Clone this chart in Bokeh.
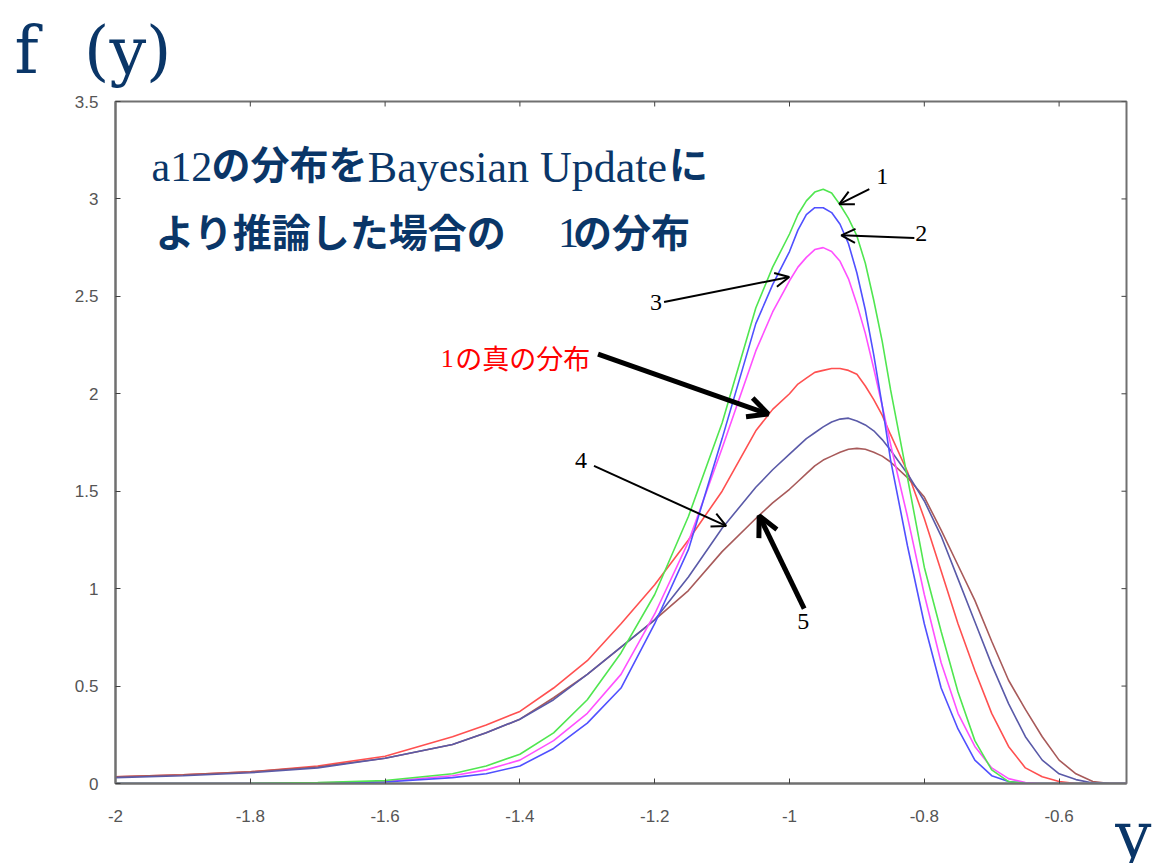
from bokeh.plotting import figure
from bokeh.models import Label, Arrow, OpenHead, FixedTicker, Range1d, Title
from bokeh.embed import file_html
from bokeh.resources import INLINE

# ---------------- data ----------------
y_vals = [-2.0, -1.9, -1.8, -1.7, -1.6, -1.5, -1.45, -1.4, -1.35, -1.3, -1.25, -1.2,
          -1.15, -1.1, -1.05,
          -1.025, -1.0, -0.9875, -0.975, -0.9625, -0.95, -0.9375, -0.925, -0.9125,
          -0.9, -0.8875, -0.875, -0.8625, -0.85,
          -0.825, -0.8, -0.775, -0.75, -0.725, -0.7, -0.675, -0.65, -0.625, -0.6,
          -0.575, -0.55, -0.525, -0.5]

f_green_1 = [0.0, 0.0, 0.001, 0.005, 0.015, 0.05, 0.09, 0.15, 0.26, 0.43, 0.67, 0.97,
             1.37, 1.85, 2.44,
             2.65, 2.82, 2.92, 2.99, 3.035, 3.05, 3.03, 2.97, 2.90, 2.81, 2.67, 2.48, 2.27, 2.02,
             1.57, 1.11, 0.78, 0.47, 0.22, 0.07, 0.01, 0.0, 0.0, 0.0, 0.0, 0.0, 0.0, 0.0]
f_blue_2 = [0.0, 0.0, 0.0, 0.002, 0.008, 0.03, 0.05, 0.09, 0.18, 0.31, 0.49, 0.82,
            1.20, 1.77, 2.36,
            2.56, 2.73, 2.84, 2.92, 2.955, 2.955, 2.93, 2.87, 2.77, 2.62, 2.43, 2.20, 1.94, 1.66,
            1.22, 0.82, 0.49, 0.28, 0.12, 0.04, 0.01, 0.0, 0.0, 0.0, 0.0, 0.0, 0.0, 0.0]
f_magenta_3 = [0.0, 0.0, 0.0, 0.003, 0.01, 0.04, 0.07, 0.12, 0.22, 0.36, 0.56, 0.87,
               1.24, 1.72, 2.22,
               2.42, 2.58, 2.65, 2.70, 2.74, 2.75, 2.73, 2.68, 2.59, 2.46, 2.31, 2.13, 1.94, 1.74,
               1.37, 0.97, 0.62, 0.36, 0.19, 0.08, 0.025, 0.005, 0.0, 0.0, 0.0, 0.0, 0.0, 0.0]
f_true = [0.035, 0.045, 0.06, 0.09, 0.14, 0.24, 0.30, 0.37, 0.49, 0.63, 0.82, 1.02,
          1.25, 1.50, 1.81,
          1.92, 2.00, 2.05, 2.08, 2.11, 2.12, 2.13, 2.13, 2.12, 2.10, 2.04, 1.97, 1.89, 1.79,
          1.60, 1.36, 1.09, 0.82, 0.58, 0.36, 0.19, 0.08, 0.035, 0.01, 0.0, 0.0, 0.0, 0.0]
f_navy_4 = [0.03, 0.04, 0.055, 0.08, 0.13, 0.20, 0.26, 0.33, 0.43, 0.56, 0.70, 0.84,
            1.06, 1.31, 1.52,
            1.61, 1.69, 1.73, 1.77, 1.80, 1.83, 1.855, 1.87, 1.875, 1.86, 1.84, 1.81, 1.765, 1.71,
            1.59, 1.45, 1.27, 1.05, 0.83, 0.61, 0.41, 0.24, 0.12, 0.05, 0.02, 0.003, 0.0, 0.0]
f_brown_5 = [0.035, 0.045, 0.06, 0.085, 0.13, 0.20, 0.26, 0.33, 0.44, 0.56, 0.70, 0.84,
             0.99, 1.19, 1.36,
             1.44, 1.51, 1.55, 1.59, 1.63, 1.66, 1.68, 1.70, 1.715, 1.72, 1.715, 1.70, 1.68, 1.65,
             1.57, 1.47, 1.30, 1.12, 0.94, 0.73, 0.53, 0.38, 0.24, 0.12, 0.05, 0.01, 0.0, 0.0]

x_ticks = [-2.0, -1.8, -1.6, -1.4, -1.2, -1.0, -0.8, -0.6]
x_tick_labels = ["-2", "-1.8", "-1.6", "-1.4", "-1.2", "-1", "-0.8", "-0.6"]
y_ticks = [0.0, 0.5, 1.0, 1.5, 2.0, 2.5, 3.0, 3.5]
y_tick_labels = ["0", "0.5", "1", "1.5", "2", "2.5", "3", "3.5"]

X_MIN, X_MAX, Y_MIN, Y_MAX = -2.0, -0.5, 0.0, 3.5

# ---------------- figure ----------------
NAVY = "#0a3668"
p = figure(width=1155, height=863, x_range=Range1d(X_MIN, X_MAX), y_range=Range1d(Y_MIN, Y_MAX),
           output_backend="svg", toolbar_location=None,
           min_border_left=115, min_border_right=29, min_border_top=100, min_border_bottom=80)
p.background_fill_color = "white"
p.border_fill_color = "white"
p.outline_line_color = "#707070"
p.outline_line_width = 2
p.xgrid.grid_line_color = None
p.ygrid.grid_line_color = None

# "f (y)" caption as the plot title (top left)
p.title.text = "f\u2002\u2009(y)"
p.title.text_font = "DejaVu Serif"
p.title.text_font_size = "65px"
p.title.text_font_style = "normal"
p.title.text_color = NAVY
p.title.align = "left"
p.title.vertical_align = "top"
p.title.offset = -101
p.title.standoff = 24

# "y" caption bottom right
p.add_layout(Title(text="y", align="right", offset=-25, standoff=-58,
                   text_font="DejaVu Serif", text_font_size="64px",
                   text_font_style="normal", text_color=NAVY), "below")

AX = "#707070"

def style_axis(ax, standoff):
    ax.axis_line_color = AX
    ax.axis_line_width = 2
    ax.major_tick_in = 5
    ax.major_tick_out = 0
    ax.major_tick_line_color = "#404040"
    ax.major_tick_line_width = 1
    ax.minor_tick_line_color = None
    ax.major_label_text_font = "Liberation Sans"
    ax.major_label_text_color = "#555555"
    ax.major_label_standoff = standoff
    ax.major_label_text_font_size = "17px"

xax = p.xaxis[0]
xax.ticker = FixedTicker(ticks=x_ticks)
xax.major_label_overrides = dict(zip(x_ticks, x_tick_labels))
style_axis(xax, 26)

yax = p.yaxis[0]
yax.ticker = FixedTicker(ticks=y_ticks)
yax.major_label_overrides = dict(zip(y_ticks, y_tick_labels))
style_axis(yax, 17)

# mirrored inward ticks on the top and right borders (gnuplot style)
tick_dy = 5 / 195.1
tick_dx = 5 / 673.3
p.segment(x0=x_ticks, y0=[Y_MAX] * len(x_ticks), x1=x_ticks, y1=[Y_MAX - tick_dy] * len(x_ticks),
          line_color="#404040", line_width=1)
p.segment(x0=[X_MAX] * len(y_ticks), y0=y_ticks, x1=[X_MAX - tick_dx] * len(y_ticks), y1=y_ticks,
          line_color="#404040", line_width=1)

# ---------------- curves ----------------
series = [
    (f_true, "#ff5050"),
    (f_brown_5, "#a85a5a"),
    (f_navy_4, "#5a5aa8"),
    (f_magenta_3, "#ff50ff"),
    (f_blue_2, "#5050ff"),
    (f_green_1, "#50e650"),
]
for vals, col in series:
    p.line(y_vals, vals, line_color=col, line_width=1.6)

# ---------------- annotations ----------------
SERIF = "Liberation Serif"
CJK = "Noto Sans CJK JP"

def lab(x, y, text, font, size, color, style="normal", align="left"):
    p.add_layout(Label(x=x, y=y, text=text, text_font=font, text_font_size=size,
                       text_color=color, text_font_style=style, text_align=align,
                       text_baseline="middle"))

# title lines
lab(-1.9465, 3.163, "a12", SERIF, "42px", NAVY)
lab(-1.8574, 3.188, "の分布を", CJK, "39px", NAVY, "bold")
lab(-1.6257, 3.163, "Bayesian Update", SERIF, "44px", NAVY)
lab(-1.1787, 3.188, "に", CJK, "39px", NAVY, "bold")
lab(-1.9406, 2.840, "より推論した場合の", CJK, "39px", NAVY, "bold")
lab(-1.3435, 2.824, "1", SERIF, "42px", NAVY)
lab(-1.3213, 2.840, "の分布", CJK, "39px", NAVY, "bold")

# red caption
lab(-1.5173, 2.181, "1", SERIF, "26px", "#ff0000")
lab(-1.4960, 2.188, "の真の分布", CJK, "27px", "#ff0000")

# number labels
num_labels = [("1", -0.8623, 3.116), ("2", -0.8044, 2.824), ("3", -1.1980, 2.471),
              ("4", -1.3094, 1.656), ("5", -0.9797, 0.830)]
for t, x, y in num_labels:
    lab(x, y, t, SERIF, "24px", "black", align="center")

# arrows: (x_start, y_start, x_end, y_end, width, head size)
arrows = [
    (-0.8816, 3.050, -0.9262, 2.973, 2, 14),
    (-0.8148, 2.799, -0.9232, 2.813, 2, 14),
    (-1.1861, 2.471, -1.0004, 2.599, 2, 14),
    (-1.2841, 2.204, -1.0316, 1.896, 5, 20),
    (-1.2901, 1.630, -1.0940, 1.322, 2, 14),
    (-0.9782, 0.897, -1.0450, 1.374, 5, 20),
]
for xs_, ys_, xe, ye, w, s in arrows:
    p.add_layout(Arrow(end=OpenHead(size=s, line_width=w, line_color="black"),
                       x_start=xs_, y_start=ys_, x_end=xe, y_end=ye,
                       line_width=w, line_color="black"))

open("out.html", "w").write(file_html(p, INLINE))
